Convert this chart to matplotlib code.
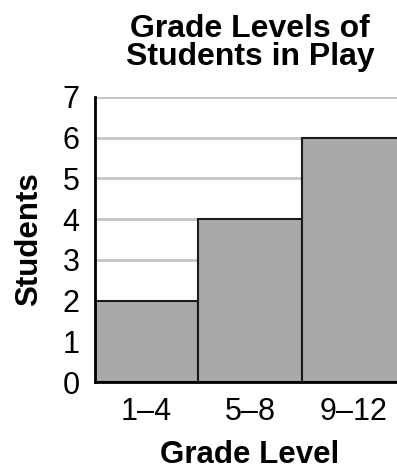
import matplotlib.pyplot as plt

plt.rcParams['font.family'] = ['Liberation Sans', 'DejaVu Sans']

grades = ['1–4', '5–8', '9–12']
students = [2, 4, 6]
yticks = [0, 1, 2, 3, 4, 5, 6, 7]

fig = plt.figure(figsize=(3.97, 4.70), dpi=100)
ax = fig.add_axes([95 / 397, 1 - 382 / 470, 310 / 397, 285 / 470])

x = range(len(grades))
ax.bar(x, students, width=1.0, color='#a9a9a9', edgecolor='#1a1a1a',
       linewidth=1.5, zorder=3)

ax.set_xlim(-0.5, 2.5)
ax.set_ylim(0, 7)
ax.set_yticks(yticks)
ax.set_xticks(list(x))
ax.set_xticklabels(grades)
ax.yaxis.grid(True, color='#c4c4c4', linewidth=2, zorder=0)
ax.set_axisbelow(True)

for s in ['top', 'right']:
    ax.spines[s].set_visible(False)
ax.spines['left'].set_linewidth(2)
ax.spines['bottom'].set_linewidth(2)
ax.spines['left'].set_zorder(4)
ax.spines['bottom'].set_zorder(4)

ax.tick_params(axis='both', length=0, labelsize=22)
ax.tick_params(axis='y', pad=11)
ax.tick_params(axis='x', pad=11)

ax.set_ylabel('Students', fontsize=22.5, fontweight='bold', labelpad=13)
ax.set_xlabel('Grade Level', fontsize=22.5, fontweight='bold', labelpad=9)
ax.set_title('Grade Levels of\nStudents in Play', fontsize=23,
             fontweight='bold', pad=23, linespacing=0.9)

fig.savefig('out.png', dpi=100)
